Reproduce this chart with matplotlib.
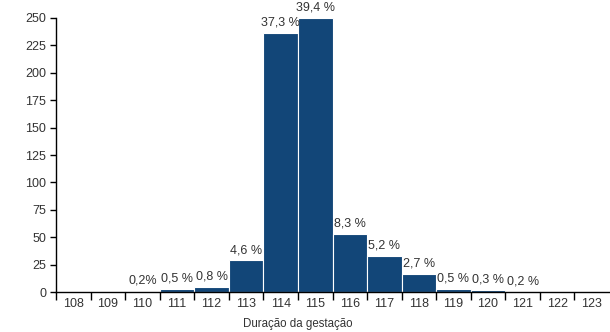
import matplotlib.pyplot as plt
import numpy as np

plt.rcParams["font.family"] = ["Liberation Sans", "DejaVu Sans"]

days = [108, 109, 110, 111, 112, 113, 114, 115, 116, 117, 118, 119, 120, 121, 122, 123]
counts = [0, 0, 1.5, 3.3, 5, 29, 236, 250, 53, 33, 17, 3, 2, 1, 0, 0]
labels = ["", "", "0,2%", "0,5 %", "0,8 %", "4,6 %", "37,3 %", "39,4 %",
          "8,3 %", "5,2 %", "2,7 %", "0,5 %", "0,3 %", "0,2 %", "", ""]
yticks = [0, 25, 50, 75, 100, 125, 150, 175, 200, 225, 250]

bar_color = "#124678"
text_color = "#333333"

fig = plt.figure(figsize=(6.1, 3.32), dpi=100)
ax = fig.add_axes([56 / 610, (332 - 292.3) / 332, 553 / 610, 274.6 / 332])

ax.bar(days, counts, width=1.0, color=bar_color, edgecolor="white", linewidth=0.8)

for d, c, lab in zip(days, counts, labels):
    if lab:
        ax.annotate(lab, (d, c), xytext=(0, 3), textcoords="offset points",
                    ha="center", va="bottom", fontsize=9, color=text_color)

ax.set_xlim(107.5, 123.5)
ax.set_ylim(0, 250)
ax.set_yticks(yticks)
ax.tick_params(axis="y", length=4, width=1, colors="black", labelcolor=text_color,
               labelsize=9, pad=3)

# bin edges carry the tick marks, centres carry the labels
edges = np.array(days[:-1]) + 0.5
ax.set_xticks(np.concatenate([[107.5], edges]))
ax.set_xticklabels([])
ax.set_xticks(days, minor=True)
ax.set_xticklabels([str(d) for d in days], minor=True)
ax.tick_params(axis="x", which="major", length=6, width=1, colors="black")
ax.tick_params(axis="x", which="minor", length=0, labelsize=9,
               labelcolor=text_color, pad=4)

for s in ["top", "right"]:
    ax.spines[s].set_visible(False)
ax.spines["left"].set_linewidth(1)
ax.spines["bottom"].set_linewidth(1)

fig.text(298 / 610, (332 - 324) / 332, "Duração da gestação", ha="center",
         va="center", fontsize=8.3, color=text_color)

fig.savefig("out.png", dpi=100)
